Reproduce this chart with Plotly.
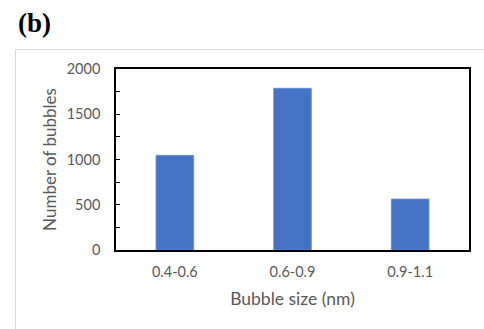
import plotly.graph_objects as go

categories = ["0.4-0.6", "0.6-0.9", "0.9-1.1"]
counts = [1046, 1787, 563]
y_ticks = [0, 500, 1000, 1500, 2000]

W, H = 484, 329
L, R, T, B = 116, 15, 69, 79
pw, ph = W - L - R, H - T - B

def px(x):
    return (x - L) / pw

def py(y):
    return (H - B - y) / ph

gray = "#595959"
font = "Lato"

fig = go.Figure(go.Bar(
    x=categories, y=counts,
    marker=dict(color="#4472C4", line=dict(color="#6a8fd3", width=0.8)),
    width=0.32,
))

fig.update_layout(
    width=W, height=H,
    margin=dict(l=L, r=R, t=T, b=B, autoexpand=False),
    paper_bgcolor="white", plot_bgcolor="white",
    showlegend=False,
    font=dict(family=font, size=14, color=gray),
    xaxis=dict(
        showline=True, linecolor="black", linewidth=1.6, mirror=True,
        ticks="", showgrid=False,
        tickfont=dict(family=font, size=14.5, color=gray),
        ticklabelstandoff=8,
        title=dict(text="Bubble size (nm)", font=dict(family=font, size=17.5, color=gray), standoff=14),
    ),
    yaxis=dict(
        range=[0, 2000], tickvals=y_ticks,
        showline=True, linecolor="black", linewidth=1.6, mirror=True,
        ticks="inside", ticklen=4, tickwidth=1.4, tickcolor="black",
        minor=dict(dtick=250, ticks="inside", ticklen=4, tickwidth=1.4, tickcolor="black"),
        showgrid=False, zeroline=False,
        tickfont=dict(family=font, size=14.5, color=gray),
        ticklabelstandoff=11,
        title=dict(text="Number of bubbles", font=dict(family=font, size=17, color=gray), standoff=6),
    ),
    shapes=[dict(type="rect", xref="paper", yref="paper",
                 x0=px(15.5), x1=px(495), y0=py(49.5), y1=py(340),
                 line=dict(color="#d9d9d9", width=1), fillcolor="rgba(0,0,0,0)", layer="below")],
    annotations=[dict(text="<b>(b)</b>", xref="paper", yref="paper",
                      x=px(16), y=py(23), xanchor="left", yanchor="middle",
                      showarrow=False,
                      font=dict(family="Liberation Serif", size=27, color="black"))],
)

fig.write_html("out.html")
